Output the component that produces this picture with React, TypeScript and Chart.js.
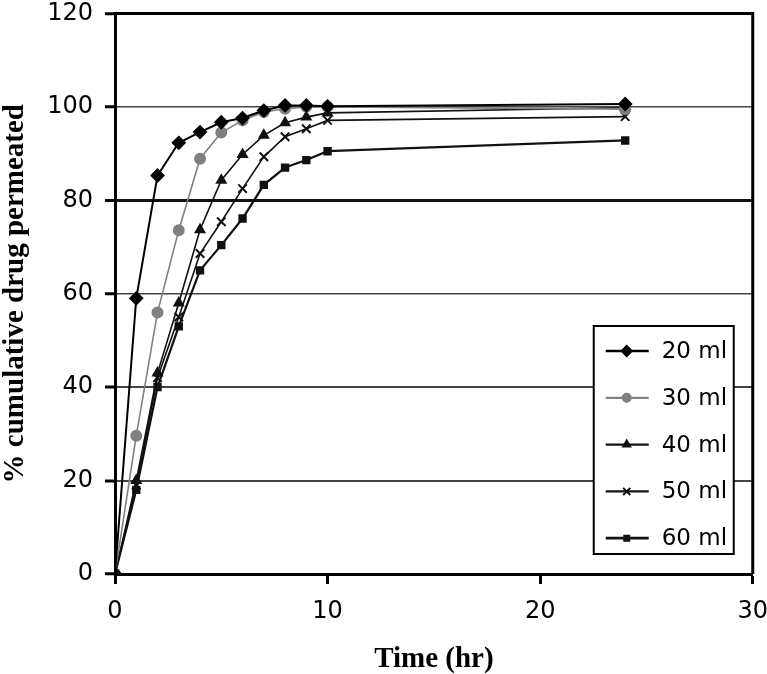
import React, { useEffect, useRef } from 'react';
import { Chart, registerables } from 'chart.js';
import { drawPoint } from 'chart.js/helpers';

Chart.register(...registerables);

// Data
const timesHr = [0, 1, 2, 3, 4, 5, 6, 7, 8, 9, 10, 24];
const seriesLabels = ['20 ml', '30 ml', '40 ml', '50 ml', '60 ml'];
const ml20 = [0, 59, 85.3, 92.3, 94.6, 96.7, 97.6, 99.2, 100.3, 100.3, 100.1, 100.6];
const ml30 = [0, 29.6, 56, 73.6, 88.9, 94.5, 97.1, 98.9, 99.6, 100, 100, 99.5];
const ml40 = [0, 20, 43, 58, 73.7, 84.3, 89.8, 93.9, 96.6, 97.8, 98.7, 99.8];
const ml50 = [0, 19, 42, 55, 68.6, 75.4, 82.5, 89.3, 93.6, 95.3, 97.1, 97.9];
const ml60 = [0, 18, 40, 53, 65, 70.4, 76.1, 83.3, 87, 88.6, 90.5, 92.8];
const xTickValues = [0, 10, 20, 30];
const yTickValues = [0, 20, 40, 60, 80, 100, 120];

const seriesValues = [ml20, ml30, ml40, ml50, ml60];
const seriesColors = ['#000000', '#808080', '#111111', '#111111', '#111111'];
const seriesMarkers = ['rectRot', 'circle', 'triangle', 'crossRot', 'rect'];
const seriesRadius = [6, 5, 5, 6, 4.5];
const seriesLineWidths = [2, 1.6, 1.6, 1.6, 2.2];

const tickFont = { family: '"DejaVu Sans", sans-serif', size: 24 };
const titleFont = { family: '"Liberation Serif", serif', size: 29, weight: 'bold' as const, lineHeight: 1.1 };

const frameAndLegend = {
  id: 'frameAndLegend',
  afterDraw(chart: any) {
    const { ctx, chartArea: a } = chart;
    ctx.save();
    // top and right frame lines
    ctx.strokeStyle = '#000';
    ctx.lineWidth = 3;
    ctx.beginPath();
    ctx.moveTo(a.left, a.top);
    ctx.lineTo(a.right, a.top);
    ctx.lineTo(a.right, a.bottom);
    ctx.stroke();

    // legend box
    const left = a.right - 159;
    const right = a.right - 19;
    const top = a.bottom - 248;
    const bottom = a.bottom - 20;
    ctx.fillStyle = '#fff';
    ctx.fillRect(left, top, right - left, bottom - top);
    ctx.lineWidth = 2;
    ctx.strokeStyle = '#000';
    ctx.strokeRect(left, top, right - left, bottom - top);

    const ds = chart.data.datasets;
    ds.forEach((d: any, i: number) => {
      const y = top + 25 + i * 46.8;
      ctx.strokeStyle = d.borderColor;
      ctx.lineWidth = d.borderWidth + 0.6;
      ctx.beginPath();
      ctx.moveTo(left + 12, y);
      ctx.lineTo(left + 55, y);
      ctx.stroke();
      ctx.fillStyle = d.pointBackgroundColor;
      ctx.strokeStyle = d.pointBorderColor;
      ctx.lineWidth = 2;
      drawPoint(ctx, { pointStyle: d.pointStyle, radius: d.pointRadius - 1, borderWidth: 2, rotation: 0 }, left + 33, y);
      ctx.fillStyle = '#000';
      ctx.font = '23px "DejaVu Sans", sans-serif';
      ctx.textBaseline = 'middle';
      ctx.textAlign = 'left';
      ctx.fillText(d.label, left + 68, y + 1);
    });
    ctx.restore();
  },
};

export default function App() {
  const canvasRef = useRef<HTMLCanvasElement | null>(null);

  useEffect(() => {
    if (!canvasRef.current) return;
    const datasets = seriesLabels.map((label, i) => ({
      label,
      data: timesHr.map((t, j) => ({ x: t, y: seriesValues[i][j] })),
      borderColor: seriesColors[i],
      backgroundColor: seriesColors[i],
      pointBackgroundColor: seriesColors[i],
      pointBorderColor: seriesColors[i],
      pointStyle: seriesMarkers[i],
      pointRadius: seriesRadius[i],
      pointBorderWidth: 2,
      borderWidth: seriesLineWidths[i],
      tension: 0,
      fill: false,
    }));

    const chart = new Chart(canvasRef.current, {
      type: 'line',
      data: { datasets },
      options: {
        responsive: false,
        animation: false,
        devicePixelRatio: 1,
        layout: { padding: { top: 13, right: 15, left: 0, bottom: 0 } },
        plugins: {
          legend: { display: false },
          tooltip: { enabled: false },
        },
        scales: {
          x: {
            type: 'linear',
            min: 0,
            max: 30,
            afterBuildTicks: (s: any) => {
              s.ticks = xTickValues.map((v) => ({ value: v }));
            },
            ticks: { font: tickFont, color: '#000', padding: 13, maxRotation: 0 },
            grid: { drawOnChartArea: false, tickLength: 10, tickColor: '#000', tickWidth: 3 },
            border: { color: '#000', width: 3 },
            title: { display: true, text: 'Time (hr)', font: { ...titleFont, lineHeight: 1 }, color: '#000', padding: 0 },
            afterFit: (s: any) => {
              s.height = 100;
            },
          },
          y: {
            type: 'linear',
            min: 0,
            max: 120,
            afterBuildTicks: (s: any) => {
              s.ticks = yTickValues.map((v) => ({ value: v }));
            },
            ticks: { font: tickFont, color: '#000', padding: 12 },
            grid: {
              color: (c: any) => {
                const v = c.tick ? c.tick.value : 0;
                if (v === 0 || v === 120) return 'rgba(0,0,0,0)';
                if (v === 80) return '#111';
                return '#444';
              },
              lineWidth: (c: any) => {
                const v = c.tick ? c.tick.value : 0;
                if (v === 80) return 3;
                if (v === 40 || v === 20) return 2;
                return 1.5;
              },
              tickLength: 10,
              tickColor: '#000',
              tickWidth: 3,
            },
            border: { color: '#000', width: 3 },
            title: { display: true, text: '% cumulative drug permeated', font: titleFont, color: '#000', padding: 0 },
            afterFit: (s: any) => {
              s.width = 115;
            },
          },
        },
      },
      plugins: [frameAndLegend],
    });
    return () => chart.destroy();
  }, []);

  return (
    <div style={{ position: 'absolute', left: 0, top: 0, width: 767, height: 674, overflow: 'hidden', background: '#fff' }}>
      <canvas ref={canvasRef} width={781} height={687} style={{ position: 'absolute', left: 0, top: -13 }} />
    </div>
  );
}
